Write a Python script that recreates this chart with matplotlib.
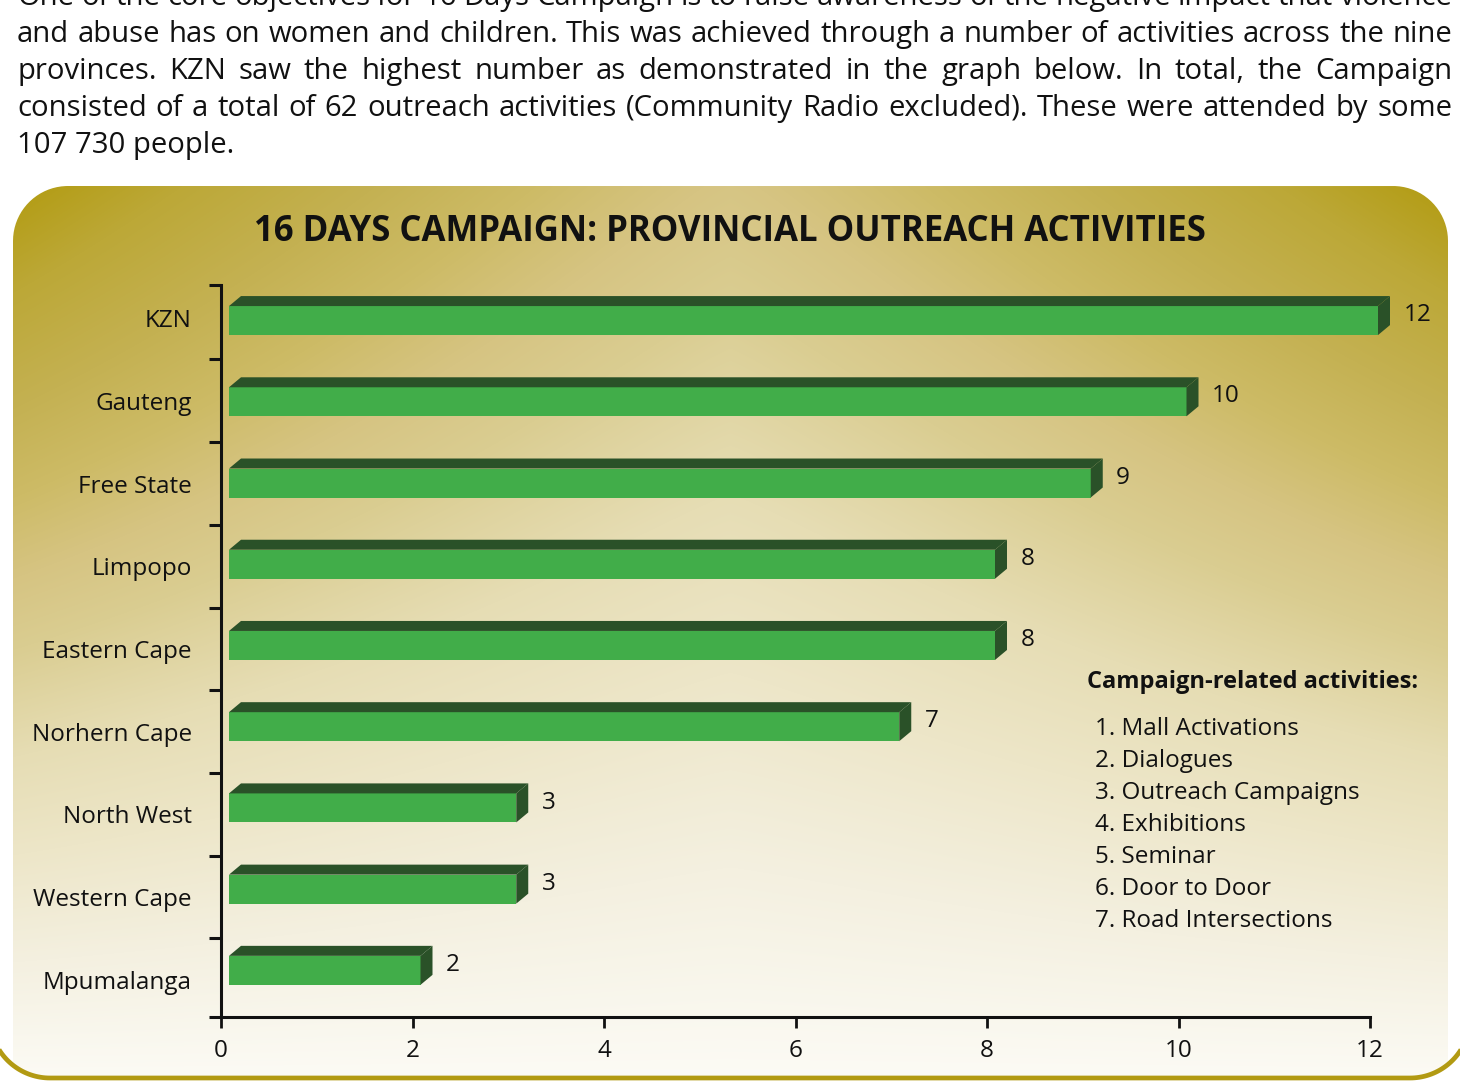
import numpy as np
import matplotlib
matplotlib.use("Agg")
import matplotlib.pyplot as plt
from matplotlib.patches import PathPatch, Polygon, Rectangle
from matplotlib.path import Path

W, H = 1460, 1090
FONT = "Open Sans"

provinces = ["KZN", "Gauteng", "Free State", "Limpopo", "Eastern Cape",
             "Norhern Cape", "North West", "Western Cape", "Mpumalanga"]
activities = [12, 10, 9, 8, 8, 7, 3, 3, 2]
x_ticks = [0, 2, 4, 6, 8, 10, 12]

title = "16 DAYS CAMPAIGN: PROVINCIAL OUTREACH ACTIVITIES"
legend_title = "Campaign-related activities:"
legend_items = ["Mall Activations", "Dialogues", "Outreach Campaigns", "Exhibitions",
                "Seminar", "Door to Door", "Road Intersections"]
paragraph = [
    "One of the core objectives for 16 Days Campaign is to raise awareness of the negative impact that violence",
    "and abuse has on women and children. This was achieved through a number of activities across the nine",
    "provinces. KZN saw the highest number as demonstrated in the graph below. In total, the Campaign",
    "consisted of a total of 62 outreach activities (Community Radio excluded). These were attended by some",
    "107 730 people.",
]

# background gradient stops: goldness (0 = bottom, 1 = top corners) -> rgb
grad_v = [0, 0.13, 0.25, 0.36, 0.48, 0.56, 0.65, 0.75, 0.88, 1.0]
grad_c = np.array([(252, 251, 245), (244, 240, 224), (237, 230, 200), (230, 221, 180),
                   (218, 205, 145), (214, 196, 130), (205, 187, 102), (196, 177, 82),
                   (188, 168, 55), (178, 155, 16)]) / 255

GREEN = "#41ad49"
DARK = "#2a5128"
GOLD = "#b29a12"
INK = "#111111"

fig = plt.figure(figsize=(W / 100, H / 100), dpi=100)
fig.patch.set_facecolor("white")
bg = fig.add_axes([0, 0, 1, 1])
renderer = fig.canvas.get_renderer()


def text_width(t):
    return t.get_window_extent(renderer).width


def fit(t, target):
    t.set_fontsize(t.get_fontsize() * target / text_width(t))


def arc(cx, cy, rad, a0, a1, n=40):
    a = np.radians(np.linspace(a0, a1, n))
    return np.column_stack([cx + rad * np.cos(a), cy + rad * np.sin(a)])


# --- panel outline (pixel coords, y down)
px0, py0, px1, py1 = 13, 186, 1448, 1078
rr = 55
lc, rc = (50, 1018), (1410, 1018)
outline = np.vstack([
    arc(px0 + rr, py0 + rr, rr, 180, 270),
    arc(px1 - rr, py0 + rr, rr, 270, 360),
    [[px1, 1064]],
    arc(rc[0], rc[1], 60, 39, 90),
    arc(lc[0], lc[1], 60, 90, 128),
    [[px0, 1065]],
])
panel = PathPatch(Path(np.vstack([outline, outline[:1]])), facecolor="none", edgecolor="none")
bg.add_patch(panel)

yy, xx = np.mgrid[py0:py1 + 2, px0:px1]
yn = (py1 - yy) / (py1 - py0)
xn = np.abs(xx - 730) / 718
v = np.clip(yn * (0.55 + 0.45 * xn ** 1.15), 0, 1)
img = np.stack([np.interp(v, grad_v, grad_c[:, k]) for k in range(3)], axis=-1)
im = bg.imshow(img, extent=(px0, px1, py1 + 2, py0), origin="upper", aspect="auto", zorder=0)
im.set_clip_path(panel)

# gold rim along the bottom
left_rim = arc(lc[0], lc[1], 60, 180, 90)
right_rim = arc(rc[0], rc[1], 60, 90, 0)
rim = np.vstack([left_rim, right_rim])
bg.plot(rim[:, 0], rim[:, 1], color=GOLD, lw=3.4, solid_capstyle="butt", zorder=2)

bg.set_xlim(0, W)
bg.set_ylim(H, 0)
bg.axis("off")

# --- justified paragraph
probe = bg.text(17, 0, paragraph[3], fontsize=20, family=FONT)
fit(probe, 1412)
para_size = probe.get_fontsize()
probe.remove()
baselines = [5, 42, 79, 116, 153]
for k, (line, yb) in enumerate(zip(paragraph, baselines)):
    if k == len(paragraph) - 1:
        bg.text(17, yb, line, fontsize=para_size, family=FONT, va="baseline", color=INK)
        continue
    words = line.split()
    objs = [bg.text(0, yb, w, fontsize=para_size, family=FONT, va="baseline", color=INK)
            for w in words]
    widths = [text_width(o) for o in objs]
    gap = (1452 - 17 - sum(widths)) / (len(words) - 1)
    x = 17
    for o, w in zip(objs, widths):
        o.set_x(x)
        x += w + gap

# --- title
t = bg.text(730, 232, title, fontsize=28, family=FONT, weight="bold", ha="center", va="center",
            color=INK)
fit(t, 953)

# --- legend text
lt = bg.text(1087, 682, legend_title, fontsize=17, family=FONT, weight="bold", va="center",
             color=INK)
fit(lt, 331)
for k, item in enumerate(legend_items):
    bg.text(1095, 729 + 32 * k, f"{k + 1}. {item}", fontsize=17.5, family=FONT, va="center",
            color=INK)

# --- bar chart
ax = fig.add_axes([221 / W, 1 - 1017 / H, (1370 - 221) / W, (1017 - 285) / H])
ax.patch.set_alpha(0)
ax.set_xlim(0, 12)
ax.set_ylim(8.45, -0.40)

xu = (1370 - 221) / 12
yu = (1017 - 285) / 8.85
off, dx, dy, h = 8 / xu, 12 / xu, 10 / yu, 29 / yu
bar_pos = np.arange(len(activities)) * 0.982 + 0.03

for yc, val in zip(bar_pos, activities):
    top = yc - h / 2
    bot = yc + h / 2
    ax.add_patch(Rectangle((off, top), val, h, facecolor=GREEN, edgecolor="none",
                           clip_on=False, zorder=3))
    ax.add_patch(Polygon([(off, top), (off + val, top), (off + val + dx, top - dy), (off + dx, top - dy)],
                         closed=True, facecolor=DARK, edgecolor="none", clip_on=False, zorder=3))
    ax.add_patch(Polygon([(off + val, top), (off + val + dx, top - dy),
                          (off + val + dx, bot - dy), (off + val, bot)],
                         closed=True, facecolor=DARK, edgecolor="none", clip_on=False, zorder=3))
    ax.text(val + off + dx + 0.14, yc - 0.065, str(val), fontsize=17.5, family=FONT,
            va="center", ha="left", color=INK)

for s in ["top", "right"]:
    ax.spines[s].set_visible(False)
for s in ["left", "bottom"]:
    ax.spines[s].set_linewidth(2.2)
    ax.spines[s].set_color(INK)

ax.set_xticks(x_ticks)
ax.set_xticklabels([str(t) for t in x_ticks], family=FONT)
ax.tick_params(axis="x", direction="out", length=8, width=2, pad=8, labelsize=17.5, colors=INK)

bounds = [-0.40] + [i + 0.5 for i in range(8)] + [8.45]
ax.set_yticks(bounds)
ax.set_yticklabels([])
ax.tick_params(axis="y", which="major", direction="out", length=9, width=2.2, color=INK)
ax.set_yticks(range(len(provinces)), minor=True)
ax.set_yticklabels(provinces, minor=True, family=FONT)
ax.tick_params(axis="y", which="minor", length=0, pad=21, labelsize=17.5, labelcolor=INK)

fig.savefig("out.png", dpi=100, facecolor="white")
